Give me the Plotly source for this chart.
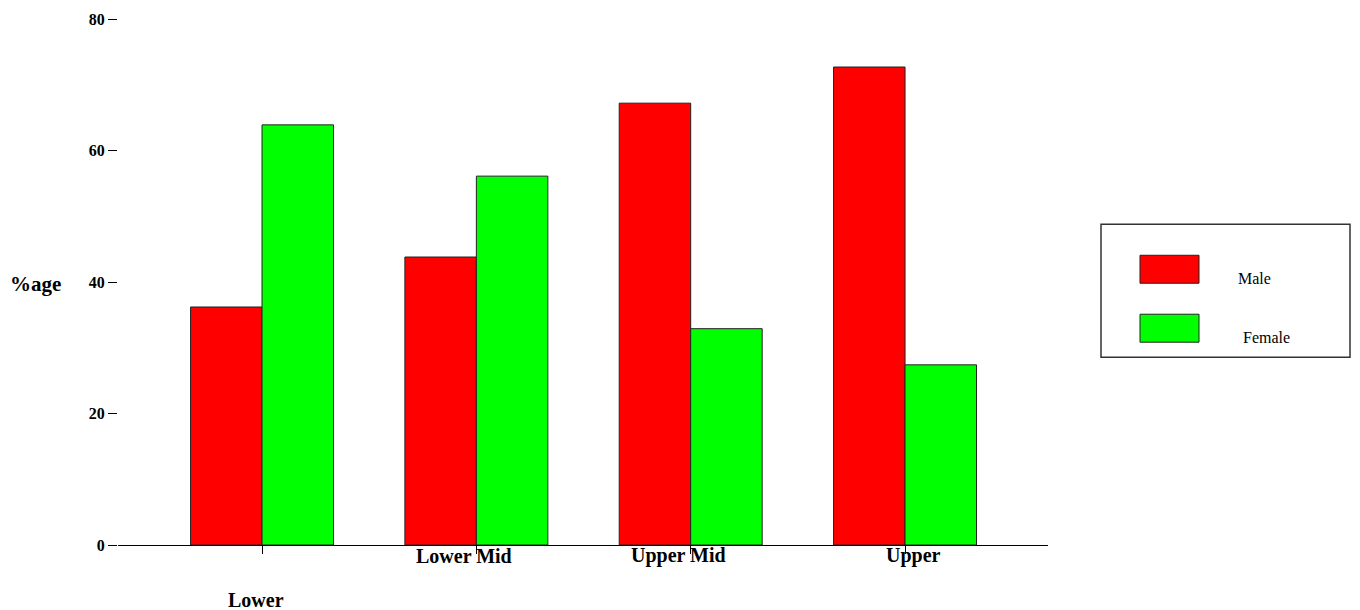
import plotly.graph_objects as go

categories = ["Lower", "Lower Mid", "Upper Mid", "Upper"]
male = [36.2, 43.8, 67.2, 72.7]
female = [63.9, 56.1, 32.9, 27.4]
series_names = ["Male", "Female"]
y_ticks = [0, 20, 40, 60, 80]

# page body has an 8px margin: size the figure so it fills the 1360x610 window
OFF = 8
W, H = 1360 - OFF, 610 - OFF
# target pixel positions in the window
PLOT_L, PLOT_R, PLOT_T, PLOT_B = 118, 1048, 18.5, 545
L = PLOT_L - OFF
T = PLOT_T - OFF
R = W - (PLOT_R - OFF)
B = H - (PLOT_B - OFF)
PW = PLOT_R - PLOT_L
PH = PLOT_B - PLOT_T

def px_x(p):
    return (p - PLOT_L) / PW

def px_y(p):
    return (PLOT_B - p) / PH

SERIF = "Liberation Serif, Times New Roman, serif"
RED = "#FF0000"
GREEN = "#00FF00"

xs = list(range(len(categories)))
fig = go.Figure()
fig.add_trace(go.Bar(x=xs, y=male, name=series_names[0], marker=dict(color=RED, line=dict(color="#222", width=1)), showlegend=False))
fig.add_trace(go.Bar(x=xs, y=female, name=series_names[1], marker=dict(color=GREEN, line=dict(color="#222", width=1)), showlegend=False))

fig.update_layout(
    width=W, height=H, autosize=False,
    margin=dict(l=L, r=R, t=T, b=B, pad=0, autoexpand=False),
    barmode="group", bargap=0.333, bargroupgap=0,
    plot_bgcolor="white", paper_bgcolor="white",
    font=dict(family=SERIF, color="black"),
    xaxis=dict(range=[-0.672, 3.667], tickvals=xs, showticklabels=False, ticks="outside",
               ticklen=8, tickcolor="black", tickwidth=1, showline=True, linecolor="black",
               linewidth=1, showgrid=False, zeroline=False, automargin=False),
    yaxis=dict(range=[0, 80], tickvals=y_ticks, ticks="outside", ticklen=9, tickcolor="black",
               tickwidth=1, showline=False, showgrid=False, zeroline=False, automargin=False,
               tickfont=dict(family=SERIF, size=16, color="black", weight="bold")),
)

label_y = [600, 556, 556, 556]
label_xshift = [-6, -12, -12, 8]
for i, c in enumerate(categories):
    fig.add_annotation(x=xs[i], y=px_y(label_y[i]), xref="x", yref="paper", text="<b>%s</b>" % c, showarrow=False,
                       xshift=label_xshift[i], yanchor="middle",
                       font=dict(family=SERIF, size=20, color="black"))

fig.add_annotation(x=px_x(35), y=px_y(284), xref="paper", yref="paper", text="<b>%age</b>",
                   showarrow=False, xanchor="center", yanchor="middle",
                   font=dict(family=SERIF, size=21, color="black"))

# legend box
fig.add_shape(type="rect", xref="paper", yref="paper", x0=px_x(1101), x1=px_x(1350), y0=px_y(357), y1=px_y(224),
              line=dict(color="#333", width=1.5), fillcolor="white")
swatches = [(255, 283, RED, 1254, 278), (314, 342, GREEN, 1266, 337)]
for (y0, y1, col, tx, ty), nm in zip(swatches, series_names):
    fig.add_shape(type="rect", xref="paper", yref="paper", x0=px_x(1140), x1=px_x(1199), y0=px_y(y1), y1=px_y(y0),
                  line=dict(color="#222", width=1), fillcolor=col)
    fig.add_annotation(x=px_x(tx), y=px_y(ty), xref="paper", yref="paper", text=nm, showarrow=False,
                       xanchor="center", yanchor="middle", font=dict(family=SERIF, size=16, color="black"))

fig.write_html("out.html")
